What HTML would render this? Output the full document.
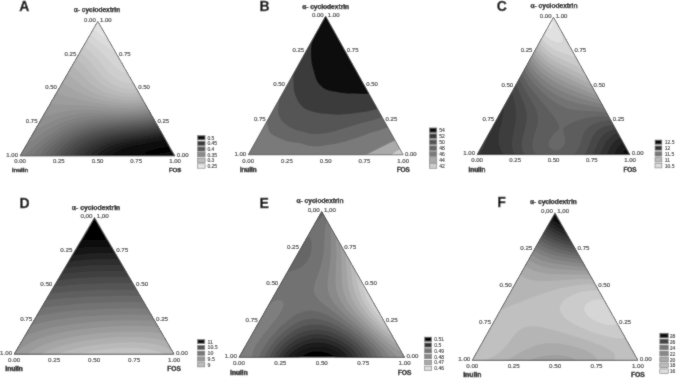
<!DOCTYPE html>
<html><head><meta charset="utf-8"><style>
html,body{margin:0;padding:0;background:#fff;}
svg{display:block;will-change:transform;}
text{font-family:"Liberation Sans",sans-serif;}
.L{font-weight:bold;fill:#000;stroke:#000;stroke-width:0.3px;}
.T{font-weight:bold;fill:#000;stroke:#000;stroke-width:0.25px;}
.N{font-weight:bold;fill:#000;stroke:#000;stroke-width:0.3px;}
.k text{fill:#1a1a1a;stroke:#1a1a1a;stroke-width:0.12px;}
.g{fill:#222;stroke:#222;stroke-width:0.1px;}
</style></head><body>
<svg width="677" height="379" viewBox="0 0 677 379">
<defs><filter id="bl" x="0" y="0" width="677" height="379" filterUnits="userSpaceOnUse"><feConvolveMatrix order="3" kernelMatrix="1 2 1 2 16 2 1 2 1" divisor="28" edgeMode="duplicate"/></filter></defs>
<g filter="url(#bl)">
<rect width="677" height="379" fill="#fff"/>
<clipPath id="cA"><polygon points="20.0,156.0 175.0,156.0 97.8,21.4"/></clipPath>
<g clip-path="url(#cA)">
<polygon points="20.0,156.0 175.0,156.0 97.8,21.4" fill="#030303"/>
<path d="M18.5 19.4l153.9 0l0.2 7l0.8 6.5l1.4 7l2.2 7.2l0 97.6l-6 1.5l-19.2 3.7l-4.7 1.5l-1.7 1l-0.2 0.5l0.8 0.7l2 0.4l7.5 -0l8.2 -1.1l13.3 -2.5l-0 8l-159 0l-0 -139z" fill="#0a0a0a"/>
<path d="M18.5 19.4l153.3 0l0.2 7.5l0.9 7l1.6 7.5l2.5 7.8l0 90.7l-9.5 2.3l-25.7 4.7l-6.2 1.5l-5.6 1.8l-4.3 2.2l-1.6 1.5l-0.4 1l0.2 1l1 1l2.1 0.9l2.4 0.6l-111.4 0l-0 -139zM176.5 154.4l0.5 -0.1l0 4.1l-25.9 0l11.5 -1.5z" fill="#111111"/>
<path d="M18.5 19.4l152.7 0l0.2 8l0.9 7.5l1.9 8l2.8 8.3l0 85.6l-12 3l-29.1 5.1l-11.9 3.1l-6 2.5l-2.5 1.4l-1.8 1.5l-1.1 1.5l-0.3 1l0.4 1.5l0.9 1l-95.6 0l-0 -139zM175 156.9l2 -0.4l0 1.9l-10.5 0z" fill="#181818"/>
<path d="M18.5 19.4l152.1 0l0.2 8.5l1 8l2.1 8.5l3.1 8.9l0 80.9l-11.5 3l-33 5.7l-7.5 1.7l-6.5 1.8l-7.4 3l-4.8 3l-1.5 1.5l-0.9 1.5l-0.3 1.5l0.4 1.5l-86 0l0 -139zM176 158.3l0.5 -0.1l0.5 -0.1l0 0.3l-1.5 -0z" fill="#1f1f1f"/>
<path d="M18.5 19.4l151.5 0l0.1 9l1.2 8.5l2.3 9l3.4 9.4l0 76.5l-5.5 1.7l-7 1.7l-35.5 6l-8 1.7l-7.5 2.2l-7.2 2.8l-5.9 3.5l-1.9 1.7l-1.4 1.8l-0.8 2l0.1 1.5l-78.4 0l0 -139z" fill="#262626"/>
<path d="M18.5 19.4l150.8 0l0.1 9.5l1.3 9l2.6 9.5l3.7 9.9l0 72.2l-6.5 2.2l-7.5 1.8l-37.5 6.1l-9 2l-7.5 2.2l-8 3.2l-6.5 3.9l-2.2 2l-1.5 2l-0.9 2l-0.1 1.5l-71.8 0l0 -139z" fill="#2d2d2d"/>
<path d="M18.5 19.4l150.2 0l0 10l1.4 9.5l2.6 9.5l4.3 11l0 67.9l-6.5 2.3l-8.5 2.1l-39.5 6.4l-9.5 2l-7.9 2.3l-8.6 3.5l-6.7 4l-2.3 2l-2.2 2.5l-1.1 2l-0.4 2l-65.8 -0l0 -139z" fill="#343434"/>
<path d="M18.5 19.4l149.5 -0l-0 10l1.4 10l2.8 10l4.8 12.1l-0 63.6l-7 2.7l-9 2.3l-10 1.8l-31.5 4.6l-9.5 2.1l-8.5 2.4l-9 3.7l-7 4.2l-3 2.5l-2.2 2.5l-1.5 2.5l-0.5 2l-60.3 0l-0 -139z" fill="#3b3b3b"/>
<path d="M18.5 19.4l148.8 0l-0 10.5l1.5 10.5l3 10.5l5.2 12.7l0 59.3l-7.5 3.1l-9.5 2.5l-10.5 1.8l-33 4.8l-10 2.1l-8.5 2.5l-9.5 3.9l-4.1 2.3l-3.7 2.5l-2.9 2.5l-2.3 2.5l-1.6 2.5l-0.9 2.5l-55 -0l0 -139z" fill="#424242"/>
<path d="M18.5 19.4l148.1 0l-0.3 5.5l0.2 5.5l1.6 10.5l3.2 11l5.7 13.9l0 54.9l-7.5 3.3l-10 2.8l-11.5 2l-34 4.7l-10.5 2.2l-9 2.6l-9.7 4.1l-4.4 2.5l-3.6 2.5l-3 2.5l-2.8 3l-2 3l-1 2.5l-50 0l0 -139z" fill="#494949"/>
<path d="M18.5 19.4l147.3 0l-0.3 6l0.2 5.5l0.6 5.5l1.1 5.5l3.5 11.5l6.1 14.7l0 50.3l-3.6 2l-4.4 1.8l-10.5 3l-12 2.1l-35.5 4.7l-10.5 2.2l-9.2 2.7l-9.8 4.2l-4.5 2.5l-4.1 2.8l-3.6 3l-2.8 3l-2.1 3l-1.3 3l-45.1 0l0 -139z" fill="#505050"/>
<path d="M18.5 19.4l146.6 0l-0.4 6l0.2 6l0.7 6l1.1 5.5l3.5 11.5l6.8 16.2l0 45.4l-3.5 2.2l-4.5 2.1l-5 1.7l-6 1.5l-12.5 2.2l-26 3l-11 1.6l-11 2.3l-9.5 2.9l-10.2 4.4l-4.4 2.5l-4.4 3.1l-3.5 2.9l-3.4 3.5l-2.5 3.5l-1.4 3l-40.2 0l0 -139z" fill="#575757"/>
<path d="M18.5 19.4l145.8 0l-0.4 6l0.1 6l0.7 6l1.1 6l3.8 12l7.4 17.8l0 40.2l-3.5 2.5l-4.5 2.3l-5.5 2l-6.3 1.7l-13.2 2.2l-27 3l-11.5 1.7l-11 2.2l-10 3.1l-5.5 2.2l-5.3 2.6l-4.7 2.8l-4.4 3.2l-4 3.5l-3.3 3.5l-2.5 3.5l-1.5 3l-35.3 0l0 -139z" fill="#5e5e5e"/>
<path d="M18.5 19.4l145 0l-0.5 6.5l0.1 6l0.7 6l1.1 6l3.8 12l8.3 20.3l0 34.3l-3.5 3l-4.5 2.6l-5.8 2.3l-6.7 1.8l-13.5 2.3l-29 3l-11.5 1.6l-11.5 2.4l-10 3.1l-5.6 2.3l-5.4 2.8l-5 3l-4.3 3.2l-4.1 3.5l-3.8 4l-2.6 3.5l-1.9 3.5l-30.3 0l-0 -139z" fill="#656565"/>
<path d="M18.5 19.4l144.2 0l-0.5 6.5l-0 6l0.6 6l1.2 6.5l3.7 12l9.3 23.2l0 27.5l-3.5 3.7l-4.5 3.1l-5.7 2.5l-7.3 2.1l-7 1.4l-8 1.1l-28.5 2.7l-11 1.3l-10.5 1.9l-9 2.5l-6.5 2.4l-6 2.8l-5.5 3.1l-5.5 3.7l-4.9 4l-4.5 4.5l-3.7 4.5l-2.3 4l-25.1 0l0 -139z" fill="#6c6c6c"/>
<path d="M18.5 19.4l143.3 0l-0.6 6.5l0 6.5l0.6 6l1.2 6.5l3.2 10.5l8.1 20.5l2.7 8.2l0 18.6l-0.6 1.2l-2.9 4l-4.5 3.6l-6 2.9l-7.5 2.4l-7 1.4l-8.5 1.1l-30.5 2.6l-11.5 1.3l-11 2l-9.5 2.7l-6 2.3l-6 2.9l-5.6 3.3l-5.8 4l-5.4 4.5l-4.5 4.5l-3.9 4.5l-3 4.5l-19.3 -0l0 -139z" fill="#737373"/>
<path d="M18.5 19.4l142.5 0l-0.7 6.5l-0.1 6.5l0.5 6l1.2 6.5l3.2 11l8.8 23l2.4 9l0.4 4l-0.1 4l-0.7 3.5l-1.2 3l-1.6 2.5l-1.6 1.9l-4.5 3.4l-6 2.9l-7.5 2.2l-7.5 1.4l-8.5 1.1l-31 2.1l-11.5 1.2l-11.5 2.1l-10.5 3.1l-6 2.4l-6 3l-5.5 3.3l-5.5 3.9l-5.5 4.5l-5.3 5l-4.7 5l-3.9 5l-12.6 -0l-0 -139z" fill="#7a7a7a"/>
<path d="M18.5 19.4l141.6 0l-0.8 6.5l-0.2 6l0.5 6.5l1 6l3.1 11l8.6 23l2.2 9l0.3 4l-0.1 3.5l-0.8 3.5l-1.2 3l-3.2 4.1l-4.5 3.4l-6 2.8l-7.5 2.1l-7.5 1.3l-8.5 1l-32 1.7l-12 1.1l-12 2.1l-10.5 3.1l-9.5 4.2l-9.4 5.6l-10.6 8l-18.5 16.2l-0.4 0.3l-2.6 0l0 -139z" fill="#818181"/>
<path d="M18.5 19.4l140.6 0l-0.8 6.5l-0.3 6l0.4 6l0.9 6.5l3 11l8.2 22.5l2 8.5l0.4 4l-0.2 3.5l-0.7 3.1l-1.2 2.9l-1.3 2l-2 2.3l-4.5 3.3l-6 2.7l-8 2.1l-7.5 1.2l-9.5 0.9l-31 1.1l-11.5 0.8l-11 1.5l-10 2.5l-8 3l-8 3.9l-9 5.5l-17.5 12.2l-4.5 2.3l-3.5 0.8l0 -128.6z" fill="#888888"/>
<path d="M18.5 19.4l139.6 0l-0.8 5.5l-0.4 5.5l0.1 5l0.5 5.5l1.1 6l1.5 6l7.8 22l2.2 8l0.6 4.5l0 4l-0.5 3.5l-1.4 3.5l-2.8 3.8l-4 3.2l-5.1 2.5l-6.5 2l-7.9 1.4l-9.5 1l-11 0.4l-31.5 0.4l-9.5 0.7l-8 1.1l-9 2.2l-9 3.2l-6.5 2.9l-14 7.5l-5 2.2l-4 1l-1.5 -0l-1.5 -0.4l-1 -0.7l-1.1 -1.4l-1.1 -4l-0.2 -4.5l0.6 -17l-0.6 -5.5l-1.1 -4.5l0 -76.5z" fill="#8f8f8f"/>
<path d="M18.5 19.4l138.6 0l-0.9 5.5l-0.5 5.5l0 5.5l0.4 5l1 6l1.5 6l7.4 21.5l2 7.5l0.6 4.5l-0.1 4l-0.6 3.5l-1.2 3l-1.7 2.5l-1.9 2l-2.6 2l-2.5 1.4l-6.7 2.6l-8.3 1.7l-8 0.9l-10 0.4l-36 -0.7l-14 0.4l-7.5 0.8l-7 1.3l-21.5 5.6l-3.5 0.3l-3 -0.9l-2 -1.8l-1.2 -2.5l-3.1 -12.5l-2 -5.5l-2.5 -4.5l-3.7 -4.5l-0 -66.5z" fill="#969696"/>
<path d="M18.5 19.4l137.6 0l-1.1 6l-0.5 5.5l-0.1 5l0.4 5.5l0.9 6l1.5 6l6.6 20l2 7.5l0.5 4l-0 4l-0.7 3.5l-1.1 2.8l-1.8 2.7l-2.2 2.2l-3 2.1l-3.5 1.7l-4.2 1.5l-4.8 1.1l-11.5 1.4l-8 0.2l-9.5 -0.2l-39.5 -2.8l-24 -0.6l-5.5 -0.8l-4 -1.4l-4 -3l-6.9 -7.9l-4 -4l-4.4 -3.5l-5.7 -3.7l-0 -60.8z" fill="#9d9d9d"/>
<path d="M18.5 19.4l136.4 -0l-1.1 5.5l-0.6 5.5l-0.2 5.5l0.2 5.5l0.8 5.5l1.4 6l6.2 19.5l1.8 7.5l0.5 4l-0.1 3.5l-0.5 3l-1.1 3l-2.7 3.7l-4 3.1l-5.5 2.5l-6.5 1.7l-7.5 0.9l-9 0.3l-10 -0.3l-11.5 -1.1l-11.5 -1.7l-11 -2l-9.5 -2.2l-8.5 -2.4l-9 -3.5l-18.3 -9l-19.7 -7.6l-0 -56.4z" fill="#a4a4a4"/>
<path d="M18.5 19.4l135.3 0l-1.3 6l-0.8 5.5l-0.3 5.5l0.2 5l0.7 5.5l1.2 6l5.8 19l1.6 7l0.3 3.5l-0 3.5l-0.6 3l-1.1 2.9l-2.5 3.4l-3.4 2.7l-4.6 2.2l-5.5 1.6l-6.5 1l-7.5 0.3l-8.5 -0.3l-9 -0.9l-7.5 -1.3l-7.5 -1.6l-7 -2l-6 -2.1l-9.2 -4.4l-15.3 -9.5l-7 -2.9l-6.9 -1.6l-17.6 -2.3l-10 -1.9l0 -52.8z" fill="#ababab"/>
<path d="M18.5 19.4l134 0l-1.4 6l-0.9 5.5l-0.4 5.5l0.1 5.5l0.6 5.5l1 5.5l5.3 18.5l1.3 6.5l0.3 3.5l-0.1 3l-0.6 3l-1.1 2.5l-2.1 3l-3 2.5l-4 2l-4.8 1.5l-5.7 0.9l-6.5 0.4l-7 -0.3l-7 -0.8l-7 -1.3l-7 -1.8l-5.9 -2.1l-5.6 -2.5l-4.4 -2.5l-4.3 -3l-13.9 -11.5l-3.9 -2.3l-4.3 -1.7l-4.2 -0.9l-5 -0.5l-21.5 0.7l-11.5 -0.7l-0 -49.6z" fill="#b2b2b2"/>
<path d="M18.5 19.4l132.7 0l-1.6 6l-1 5.5l-0.6 5.5l-0.1 5.5l0.5 5.5l0.9 5.5l4.6 17.5l1.1 6l0.1 6l-0.5 2.5l-0.9 2.5l-1.7 2.6l-2.6 2.4l-3.4 1.9l-4 1.4l-4.5 0.9l-5.5 0.4l-6 -0.2l-6 -0.7l-6.2 -1.2l-6.3 -1.9l-5.3 -2.1l-5.2 -2.8l-4.1 -2.7l-3.6 -3l-10.3 -10.6l-4 -3.6l-4.5 -3l-5 -2.1l-5 -0.9l-6 -0.1l-6 0.6l-18 2.9l-6.5 0.5l-6 -0l-0 -46.7z" fill="#b9b9b9"/>
<path d="M18.5 19.4l131.3 0l-1.8 6l-1.3 6l-0.7 5.5l-0.2 5.5l0.2 5l0.8 5.5l3.7 16l1 6l-0 5.5l-1.4 4.5l-2.1 3l-3 2.3l-3.8 1.7l-4.7 1.1l-5.5 0.3l-6 -0.3l-6 -1.1l-5.5 -1.6l-4 -1.6l-4 -2l-6.8 -4.8l-5 -5l-9.7 -11.3l-5.5 -5l-5.5 -3.2l-6 -1.8l-5 -0.4l-6 0.5l-6 1.3l-19 4.9l-6.5 1l-6.5 0.5l0 -44z" fill="#c0c0c0"/>
<path d="M18.5 19.4l129.8 0l-2 6l-1.5 6l-1 5.5l-0.5 5.5l0 5l0.5 5l2.9 15.5l0.6 5l-0.1 5l-1.2 3.8l-1.9 2.7l-2.6 2l-3.5 1.5l-3.5 0.7l-4.5 0.3l-5 -0.5l-5 -1.2l-4.5 -1.6l-6 -3.3l-5.5 -4.4l-4.1 -4.5l-9.6 -12l-6.3 -6l-3.5 -2.5l-3.5 -1.9l-3.5 -1.3l-3.5 -0.8l-5.5 -0.3l-6.5 0.9l-6 1.8l-20 6.9l-7 1.7l-7 1l-0 -41.5z" fill="#c7c7c7"/>
<path d="M18.5 19.4l128.2 0l-2.4 6.5l-1.9 6l-1.3 5.5l-0.7 5.5l-0.2 9.5l1.9 17.5l-0.2 4l-0.9 3l-1.5 2.4l-1.8 1.6l-2.2 1.1l-3 0.8l-3.5 0.1l-3.5 -0.4l-3.5 -1l-3.5 -1.5l-4.5 -2.8l-4.4 -3.8l-13.3 -16l-7.2 -7l-4.1 -3l-4.5 -2.7l-4.5 -1.9l-4 -1l-6 -0.1l-6 1.3l-5.5 2.1l-14.5 6.6l-7 2.9l-7.5 2.3l-7.5 1.6l0 -39.1z" fill="#cecece"/>
<path d="M18.5 19.4l41.9 0l3.1 0.8l3 0.3l2.5 -0.3l2.6 -0.8l73.3 0l-5.1 12.5l-3 10.5l-1.2 7.5l-0.7 13.5l-0.7 4.5l-1.2 2.5l-1.5 1.5l-2 0.9l-2 0.2l-2.5 -0.3l-2.5 -0.9l-5 -3.1l-4 -3.7l-13 -13.6l-5.7 -5l-5.8 -4.5l-5 -3.3l-5 -2.9l-4 -1.7l-3.5 -1l-4 0l-4 1.2l-5 2.6l-14.9 9.1l-7.6 4.1l-9 3.7l-9 2.5l-0 -36.8z" fill="#d5d5d5"/>
<path d="M18.5 19.4l32.4 0l2.8 2.5l1.4 2l0.8 2l-0.2 2.5l-1.4 3l-2.9 3.5l-4.3 4l-6.1 4.5l-5.6 3.5l-5.9 3l-5.5 2.2l-6 1.8l0 -34.5zM82.5 19.6l0.1 -0.2l60.3 0l-14.4 29.9l-1.5 2.2l-2 1.9l-1.5 0.7l-2 0.3l-2 -0.2l-2.5 -0.9l-5.5 -3l-13.5 -9.7l-10.4 -8.2l-3.5 -3.5l-1.9 -3l-0.6 -3z" fill="#dcdcdc"/>
<path d="M18.5 19.4l27.1 0l1.6 2l1.1 2l0.7 3.5l-0.7 3l-1.9 3.5l-3 3.5l-3.9 3.5l-4.8 3.5l-5.7 3.4l-5.5 2.5l-5.5 2l-0 -32.4zM90 19.4l0.5 0l50.1 0l-7.6 12.1l-5 6.4l-2.5 2.2l-2 1.2l-2.5 0.9l-2.5 0.3l-4 -0.5l-5 -1.9l-6 -3.4l-5.5 -4l-4.2 -3.8l-2.6 -3.5l-1.3 -3.5l-0.2 -2.5z" fill="#e3e3e3"/>
<path d="M18.5 19.4l22.9 0l2.1 3.5l0.6 3.5l-0.6 3l-1.4 3l-2.2 3l-3.4 3.5l-4 3.2l-4.5 2.9l-5 2.6l-5 2l0 -30.2zM96.5 19.4l0.5 0l40.9 0l-5.9 7.4l-5 4.6l-4.5 2.5l-2.5 0.6l-2.5 0.2l-3.5 -0.4l-3.5 -1.1l-3.5 -1.6l-3.4 -2.2l-2.9 -2.5l-2.3 -2.5l-1.9 -3.5l-0.4 -1.5z" fill="#eaeaea"/>
<path d="M18.5 19.4l19.4 0l1.5 3l0.6 3.5l-0.3 2.5l-1.2 3l-2 3l-2.7 3l-3.4 3l-3.5 2.5l-4.4 2.5l-4.5 2.1l0 -28.1zM103 19.4l0.5 0l31 0l-4.5 4.2l-4 2.7l-4 1.6l-4 0.4l-4.5 -0.6l-4.5 -2l-4.3 -3.3l-2.2 -3z" fill="#f1f1f1"/>
<path d="M18.5 19.4l16.3 0l1.3 3l0.4 3l-0.3 2.5l-0.9 2.5l-1.5 2.5l-2.4 3l-2.5 2.5l-3.4 2.6l-7.5 4.3l0 -25.9zM110.5 19.4l0.5 0l18.4 0l-4.9 2.4l-2.5 0.6l-2.5 0.3l-2.5 -0.3l-2.5 -0.6l-2.5 -1.2l-1.8 -1.2z" fill="#f8f8f8"/>
<path d="M18.5 19.4l13.5 0l1 2.5l0.3 3l-0.2 2l-0.7 2.5l-1.3 2.5l-1.8 2.5l-4.8 4.6l-6.5 4.1l0 -23.7z" fill="#fdfdfd"/>
</g>
<polygon points="20.0,156.0 175.0,156.0 97.8,21.4" fill="none" stroke="#333" stroke-width="0.65"/>
<text x="19.3" y="10.9" class="L" style="font-size:14px">A</text>
<text x="97.0" y="11.8" class="T" text-anchor="middle" style="font-size:6.5px">α- cyclodextrin</text>
<g class="k" style="font-size:6.0px">
<text x="95.8" y="22.1" text-anchor="end">0.00</text>
<text x="100.0" y="22.1">1.00</text>
<text x="76.3" y="55.8" text-anchor="end">0.25</text>
<text x="56.9" y="89.4" text-anchor="end">0.50</text>
<text x="37.5" y="123.0" text-anchor="end">0.75</text>
<text x="18.0" y="156.7" text-anchor="end">1.00</text>
<text x="118.9" y="55.8">0.75</text>
<text x="138.2" y="89.4">0.50</text>
<text x="157.5" y="123.0">0.25</text>
<text x="176.8" y="156.7">0.00</text>
<text x="20.0" y="162.7" text-anchor="middle">0.00</text>
<text x="58.8" y="162.7" text-anchor="middle">0.25</text>
<text x="97.5" y="162.7" text-anchor="middle">0.50</text>
<text x="136.2" y="162.7" text-anchor="middle">0.75</text>
<text x="175.0" y="162.7" text-anchor="middle">1.00</text>
</g>
<text x="20.0" y="172.2" class="N" text-anchor="middle" style="font-size:6.2px">Inulin</text>
<text x="175.0" y="172.2" class="N" text-anchor="middle" style="font-size:6.2px">FOS</text>
<rect x="197.5" y="135.5" width="7.6" height="4.4" fill="#111" stroke="#777" stroke-width="0.6"/>
<text x="207.4" y="139.7" class="g" style="font-size:5.0px">0.5</text>
<rect x="197.5" y="141.2" width="7.6" height="4.4" fill="#383838" stroke="#777" stroke-width="0.6"/>
<text x="207.4" y="145.4" class="g" style="font-size:5.0px">0.45</text>
<rect x="197.5" y="146.8" width="7.6" height="4.4" fill="#5a5a5a" stroke="#777" stroke-width="0.6"/>
<text x="207.4" y="151.0" class="g" style="font-size:5.0px">0.4</text>
<rect x="197.5" y="152.4" width="7.6" height="4.4" fill="#8a8a8a" stroke="#777" stroke-width="0.6"/>
<text x="207.4" y="156.7" class="g" style="font-size:5.0px">0.35</text>
<rect x="197.5" y="158.1" width="7.6" height="4.4" fill="#bdbdbd" stroke="#777" stroke-width="0.6"/>
<text x="207.4" y="162.3" class="g" style="font-size:5.0px">0.3</text>
<rect x="197.5" y="163.8" width="7.6" height="4.4" fill="#e6e6e6" stroke="#777" stroke-width="0.6"/>
<text x="207.4" y="168.0" class="g" style="font-size:5.0px">0.25</text>
<clipPath id="cB"><polygon points="248.2,154.8 403.2,154.8 325.6,16.1"/></clipPath>
<g clip-path="url(#cB)">
<polygon points="248.2,154.8 403.2,154.8 325.6,16.1" fill="#cccccc"/>
<path d="M246.7 14.1l158.5 0l0 131.9l-8 4.7l-9.3 6.4l-141.7 0l0 -143z" fill="#aaaaaa"/>
<path d="M246.7 14.1l158.5 0l-0 120.2l-10.5 6.2l-26.5 13.3l-5 1.6l-9.9 1.7l-107.1 0l-0 -143z" fill="#7a7a7a"/>
<path d="M246.7 14.1l158.5 0l0 107.2l-26.5 9.1l-9 2.7l-11.5 4.4l-14 4.3l-8.5 2l-16.5 2.5l-4.5 0.2l-4 -0.4l-4 -0.9l-7 -2.3l-7.5 -0.7l-4.5 -0.8l-5.5 -1.9l-7 -3.2l-2.5 -1.4l-2.5 -2.2l-1.4 -2.1l-2.6 -9.3l-4.7 -9.2l-8.3 -18.9l-7 -12.9l0 -66.2z" fill="#666666"/>
<path d="M246.7 14.1l158.5 0l-0 94.9l-31.5 11l-12.1 3.1l-28.9 8.6l-6 1.4l-9 1l-6 -0.1l-15.5 -3.9l-3.6 -1.5l-3.7 -2l-3.7 -2.5l-3.1 -3l-2.2 -3.5l-1.5 -4l-0.5 -3l1.1 -8.5l-0.3 -3.4l-4.2 -17.6l-4.2 -21.5l-2.6 -9l-3.5 -7.3l-4.5 -6.2l-6 -5.9l-7.5 -5.5l0 -11.6z" fill="#555555"/>
<path d="M275.7 14.1l129.5 0l-0 82.3l-28 12.7l-10 2.4l-15 2l-13.5 1.3l-16.5 -1.3l-5 -0.8l-7.5 -2l-3 -1.1l-2.5 -1.4l-3.1 -2.6l-2.9 -4l-2.8 -6l-1.6 -5.5l-0.5 -11.5l0.5 -33.5l-0.4 -5.5l-0.8 -4l-2.2 -5l-3.2 -4.8l-4.6 -5.2l-7.1 -6.5z" fill="#3a3a3a"/>
<path d="M302.2 14.1l103 0l0 68l-23 9.3l-6 1.7l-5.5 0.8l-7 0.2l-8.5 -0.6l-7.5 -0l-5 -0.4l-13.5 -2.4l-3.3 -1.1l-2.7 -1.5l-4 -3.5l-2.5 -4l-1.3 -3.5l-2.6 -9l-1.2 -5.5l-0.7 -7l0.3 -9l0.8 -4.5l2.4 -5.5l0.1 -1.5l-0.4 -2l-1.4 -3.5l-2 -3.5l-4 -5.9l-4.8 -6.1z" fill="#0a0a0a"/>
</g>
<polygon points="248.2,154.8 403.2,154.8 325.6,16.1" fill="none" stroke="#333" stroke-width="0.65"/>
<text x="259.6" y="10.6" class="L" style="font-size:14px">B</text>
<text x="325.6" y="8.9" class="T" text-anchor="middle" style="font-size:6.6px">α- cyclodextrin</text>
<g class="k" style="font-size:6.0px">
<text x="323.6" y="16.8" text-anchor="end">0.00</text>
<text x="327.8" y="16.8">1.00</text>
<text x="304.2" y="51.5" text-anchor="end">0.25</text>
<text x="284.9" y="86.2" text-anchor="end">0.50</text>
<text x="265.6" y="120.8" text-anchor="end">0.75</text>
<text x="246.2" y="155.5" text-anchor="end">1.00</text>
<text x="346.8" y="51.5">0.75</text>
<text x="366.2" y="86.2">0.50</text>
<text x="385.6" y="120.8">0.25</text>
<text x="405.0" y="155.5">0.00</text>
<text x="248.2" y="162.7" text-anchor="middle">0.00</text>
<text x="286.9" y="162.7" text-anchor="middle">0.25</text>
<text x="325.7" y="162.7" text-anchor="middle">0.50</text>
<text x="364.4" y="162.7" text-anchor="middle">0.75</text>
<text x="403.2" y="162.7" text-anchor="middle">1.00</text>
</g>
<text x="248.2" y="171.8" class="N" text-anchor="middle" style="font-size:6.4px">Inulin</text>
<text x="403.2" y="171.8" class="N" text-anchor="middle" style="font-size:6.4px">FOS</text>
<rect x="429.3" y="127.9" width="7.5" height="4.7" fill="#0a0a0a" stroke="#777" stroke-width="0.6"/>
<text x="439.2" y="132.4" class="g" style="font-size:5.0px">54</text>
<rect x="429.3" y="133.8" width="7.5" height="4.7" fill="#3a3a3a" stroke="#777" stroke-width="0.6"/>
<text x="439.2" y="138.3" class="g" style="font-size:5.0px">52</text>
<rect x="429.3" y="139.8" width="7.5" height="4.7" fill="#555" stroke="#777" stroke-width="0.6"/>
<text x="439.2" y="144.3" class="g" style="font-size:5.0px">50</text>
<rect x="429.3" y="145.8" width="7.5" height="4.7" fill="#666" stroke="#777" stroke-width="0.6"/>
<text x="439.2" y="150.2" class="g" style="font-size:5.0px">48</text>
<rect x="429.3" y="151.7" width="7.5" height="4.7" fill="#7a7a7a" stroke="#777" stroke-width="0.6"/>
<text x="439.2" y="156.2" class="g" style="font-size:5.0px">46</text>
<rect x="429.3" y="157.7" width="7.5" height="4.7" fill="#aaa" stroke="#777" stroke-width="0.6"/>
<text x="439.2" y="162.2" class="g" style="font-size:5.0px">44</text>
<rect x="429.3" y="163.6" width="7.5" height="4.7" fill="#ccc" stroke="#777" stroke-width="0.6"/>
<text x="439.2" y="168.1" class="g" style="font-size:5.0px">42</text>
<clipPath id="cC"><polygon points="477.0,154.7 630.0,154.7 553.5,17.2"/></clipPath>
<g clip-path="url(#cC)">
<polygon points="477.0,154.7 630.0,154.7 553.5,17.2" fill="#050505"/>
<path d="M509.5 15.2l75.2 0l4.8 3.8l5.5 3.6l5.5 2.8l6 2.4l6 1.7l6 1.2l6.5 0.6l7 0l0 125.4l-157 -0l0 -74.5l3.5 -0.5l3 -0.9l3 -1.4l2.5 -1.7l2.5 -2.3l2.5 -2.9l4.2 -6.8l4.1 -9.5l3.6 -11.5l2.8 -12.5l2.4 -17z" fill="#101010"/>
<path d="M510 15.2l73.6 0l4.9 4l5.5 3.7l6 3.1l6 2.4l6 1.7l6.5 1.2l6.5 0.5l7 0l0 113.3l-3.2 1.6l-3 2.5l-2.3 3l-2.5 4.5l-146 0l0 -71.5l3.5 -0.1l3.5 -0.6l3 -1.1l2.5 -1.5l2.5 -2.1l2.5 -2.7l4.3 -6.9l4.3 -10.5l3.8 -13.5l3.1 -15.5z" fill="#1b1b1b"/>
<path d="M511 15.2l71.5 -0l5.5 4.6l5.5 3.7l5.5 2.9l6 2.5l6.5 1.8l6.5 1.2l7 0.5l7 -0.1l0 107.2l-3 0.5l-3 0.9l-2.5 1.3l-2.6 2l-3.7 4.5l-4.4 8l-137.8 -0l0 -68.2l4 0.6l3.5 0l3 -0.6l2.5 -1l2.5 -1.7l2.5 -2.5l2 -2.7l2.2 -3.9l2.2 -5l2.1 -6l3.9 -14.5l3.2 -17z" fill="#262626"/>
<path d="M512 15.2l69.3 0l5.7 4.9l5.5 3.8l6 3.2l6 2.4l6.5 1.9l6.5 1.1l7 0.5l7.5 -0.1l0 102.4l-4.5 0.2l-4.5 0.9l-4 1.7l-3 2.1l-2.5 2.5l-2 2.8l-5.9 11.2l-130.6 0l0 -64.2l8.5 3.2l3 0.5l2.5 -0.2l2.5 -1l2 -1.5l2 -2.4l2 -3.6l2 -4.8l2 -6.2l4.2 -17.8l3.5 -20.5l1.6 -12l0.9 -11z" fill="#313131"/>
<path d="M513 15.2l67.1 0l5.4 4.8l5.5 3.9l6 3.4l6.5 2.8l6.5 1.8l7 1.2l7 0.5l8 -0.2l0 98.4l-6 -0.2l-5.5 0.6l-5 1.6l-4.1 2.4l-2.9 2.6l-2.6 3.4l-5.4 11l-2 3.5l-92.9 -0l-3.3 -4l-2.5 -5l-1.3 -5l-0.3 -5l0.7 -5l3.1 -12.3l1.3 -7.2l1.1 -22.5l0.8 -10l5.7 -45l1.7 -20.5zM475.1 97.7l5.8 6l3.9 6l1.5 3.5l1 3.5l1.2 7.5l-0.1 7.5l-1.3 6.5l-2.4 6.5l-5.6 12l-4.1 0z" fill="#3c3c3c"/>
<path d="M513.5 15.2l65.4 0l5.6 5.1l6 4.4l6 3.4l6.5 2.7l6.5 1.9l7 1.1l7.5 0.4l8 -0.3l0 94.9l-8 -0.8l-7 0.4l-6 1.6l-5 2.5l-3.1 2.7l-2.7 3.5l-1.9 3.5l-4.4 10l-2.9 4.5l-74.6 0l-1.8 -2.5l-1.4 -2.5l-0.9 -3l-0.5 -3l0.3 -6.5l3.5 -17l0.5 -4.5l0.1 -4l-1 -8l-4.4 -19.5l-0.7 -6l-0.3 -6.5l0.4 -14l2.5 -30.5zM475 105.2l1.7 4l1.2 4l0.8 5l0.2 5l-0.2 5.5l-0.8 6.5l-2.9 13.9z" fill="#474747"/>
<path d="M514.5 15.2l63.2 0l5.3 5.1l6 4.5l6.5 3.8l6.5 2.8l7 2l7 1.1l7.5 0.4l8.5 -0.4l0 91.6l-9.5 -1.5l-8.5 -0.1l-7.5 1.4l-3.5 1.2l-3.1 1.6l-3.7 3l-2.8 3.5l-2.1 4l-4.5 11.5l-1.8 3l-2.6 3l-55.7 -0l-2.2 -2.5l-1.6 -3l-0.9 -3l-0.3 -3.5l0.8 -6.5l2.9 -11.5l1 -5l0.3 -5l-0.4 -4.5l-0.8 -4l-1.3 -4l-6.1 -14.5l-2.3 -6.5l-1.8 -7.5l-1 -7.5l-0.3 -7l0 -8.5z" fill="#525252"/>
<path d="M515.5 15.2l60.9 0l5.6 5.5l6 4.7l6.5 3.8l6.5 2.9l7 2l7.5 1.2l8 0.3l8.5 -0.5l0 88.4l-11.5 -2.3l-5.5 -0.5l-5.5 -0.1l-5 0.4l-4.5 0.8l-4 1.2l-3.9 1.7l-4.3 3l-3 3.5l-2.2 4.5l-3 10l-1.7 4l-3.1 4l-4 3l-31.3 -0l-3.4 -2.5l-1.7 -2l-1.3 -2.5l-0.7 -2.5l-0.1 -3l0.8 -5.5l4.5 -14.5l0.5 -4l-0.2 -4l-1.2 -5l-2.1 -5l-10.4 -17.5l-3.2 -6.2l-2.5 -6.3l-1.7 -6l-1.4 -8.5l-0.6 -10z" fill="#5d5d5d"/>
<path d="M516.5 15.2l58.6 0l5.9 6l6 4.8l6.5 3.9l7 3.1l7 2l7.5 1.1l8 0.2l9 -0.7l0 85.6l-7.5 -2.1l-7 -1.4l-7 -0.9l-6.5 -0.4l-6.5 0.1l-6.6 0.7l-6.4 1.2l-6.1 1.8l-5.3 2l-4.2 2l-3.3 2l-2.1 2l-0.3 2l1.6 7l0.3 4l-0.8 3.5l-1.8 2.8l-2.5 1.8l-3.5 0.8l-3.5 -0.4l-2.7 -1.5l-1.1 -1.5l-0.6 -2l0.1 -2l0.6 -2l2.7 -4.6l6.9 -7.4l0.4 -1l-0 -1.5l-2.4 -5l-5.2 -7.5l-17.7 -21.2l-5.5 -7.2l-4.1 -6.6l-3.2 -7l-2.7 -9.2l-1.5 -10.8l-0.5 -11.5z" fill="#686868"/>
<path d="M518 15.2l55.7 0l5.8 6.1l6.5 5.3l6.5 4.1l7 3.1l7.5 2.1l7.5 1l8.5 0.1l9 -0.8l0 82.8l-12 -3.7l-12 -2.5l-11 -1.3l-20.5 -1.3l-5 -0.8l-4 -1l-5.5 -2.1l-6 -3.3l-7 -4.9l-7 -6l-7.5 -7.5l-5.5 -6.9l-4.1 -7l-3.2 -8l-2 -8.5l-1.2 -9.9l-1 -29.1z" fill="#737373"/>
<path d="M519 15.2l53.3 0l5.7 6.2l6.5 5.6l7 4.5l7 3.1l7.5 2.2l8 1l8.5 0l9.5 -0.9l0 80l-10.5 -3.7l-11 -3.2l-10 -2.3l-22 -4.2l-10.5 -3l-7 -3l-7 -3.9l-7 -4.7l-6.5 -5.3l-6 -6l-4.6 -5.9l-3.7 -6.5l-2.8 -7l-1.9 -7.6l-1.4 -9.4l-1.5 -26z" fill="#7e7e7e"/>
<path d="M520 15.2l50.9 0l6.1 7l6.5 5.7l7 4.5l7 3.2l8 2.2l8 1l9 -0.2l9.5 -1.1l0 77.3l-10.5 -4.1l-10 -3.5l-32.5 -9.3l-11.5 -4l-7.5 -3.4l-6.5 -3.6l-6.5 -4.3l-6 -4.8l-5.5 -5.5l-4.4 -5.6l-3.4 -6l-2.6 -6.5l-1.9 -7l-1.4 -8.5l-1.2 -12l-0.8 -11.5z" fill="#898989"/>
<path d="M521.5 15.2l47.9 -0l6.1 7.3l6.5 6l7 4.7l7.5 3.5l7.5 2.1l8.5 1l9 -0.2l10.5 -1.5l0 74.7l-22 -9.1l-33 -11.7l-11.5 -4.6l-7 -3.4l-6.5 -3.7l-5.5 -3.7l-5 -4.1l-5 -5l-4 -5.2l-3.2 -5.6l-2.5 -6l-2 -7l-1.6 -8.5l-2.2 -20z" fill="#949494"/>
<path d="M522.5 15.2l45.3 0l6.2 7.8l7 6.6l7 4.9l7.5 3.5l8 2.1l8.5 0.8l9.5 -0.5l10.5 -1.6l0 72.1l-26 -11.9l-33 -13.5l-9.5 -4.2l-11.5 -6.3l-4.9 -3.3l-4.1 -3.3l-4.5 -4.3l-4 -5l-3 -4.9l-2.8 -6l-2.1 -6.5l-1.5 -7l-1.6 -10.1z" fill="#9f9f9f"/>
<path d="M524 15.2l42.1 0l6 8l6.9 7l7 5.2l4 2.2l4 1.7l8 2.1l8.5 0.7l10 -0.6l11.5 -2l0 69.5l-35 -17.6l-37 -16.9l-9 -5.2l-7 -5.3l-4.5 -4.3l-3.5 -4.4l-3 -4.8l-2.5 -5.2l-2.1 -6.1l-1.8 -7l-2.1 -11.9l-0.8 -5.1z" fill="#aaaaaa"/>
<path d="M525.5 15.2l38.9 0l3.6 5.5l4 5l4 4.3l4 3.6l4 2.9l4.5 2.6l4.5 1.9l4.5 1.3l7 1.1l8 -0l9 -1l10.5 -2.2l0 67l-42 -23.4l-32.5 -15.7l-7 -4.2l-5.5 -4.2l-4 -3.9l-3.5 -4.2l-3 -4.7l-2.3 -4.7l-2.1 -5.5l-1.7 -6l-2.4 -11.4l-0.7 -4.1z" fill="#b5b5b5"/>
<path d="M527 15.2l35.4 0l3.4 5.5l3.7 5.2l4 4.7l4 4l4 3.2l4 2.6l4.5 2.1l4.5 1.4l7.5 1.2l8.5 -0.1l10 -1.4l11.5 -2.6l0 64.4l-44 -27.3l-9.5 -5.1l-21.5 -10.4l-6 -3.6l-5 -3.8l-3.5 -3.3l-3.1 -3.7l-2.9 -4.2l-2.3 -4.3l-1.9 -4.5l-1.9 -5.5z" fill="#c0c0c0"/>
<path d="M529 15.2l31.3 0l3.4 6l3.5 5.5l3.8 5.1l4 4.4l3.5 3.3l4 2.9l4 2.1l4.5 1.6l4 0.8l4 0.4l9 -0.4l11 -1.8l13 -3.4l0 61.8l-17.3 -11.3l-23.2 -16.9l-7 -4.7l-8.5 -4.8l-19.5 -9l-5.5 -3.3l-4.3 -3.3l-3.2 -3l-3 -3.5l-4.5 -7.2l-2 -4.4l-2 -5.5l-2.5 -8.6l-0.7 -2.8z" fill="#cbcbcb"/>
<path d="M531 15.2l27 0l3.1 6.5l3.6 6.5l3.8 6.1l4 5.6l3.5 4l3 2.8l3 2l3.5 1.3l3.5 0.7l4 0.2l10 -1l13.5 -2.9l15.5 -4.4l0 59.1l-12.3 -8.5l-10.3 -8l-9.3 -8l-14.1 -13.2l-5 -4l-6 -3l-12 -3.9l-6 -2.3l-5.5 -3.1l-4.5 -3.3l-5 -5.3l-4 -6l-3.7 -7.9z" fill="#d6d6d6"/>
<path d="M533.5 15.2l21.6 0l7.3 19.5l0.6 4l-0.3 1.5l-0.6 1l-1.1 0.8l-1.5 0.4l-4 -0.4l-4.5 -2l-4.5 -3.2l-3.5 -3.7l-3.5 -5l-3 -5.7zM631.5 43.6l0.5 -0.2l0 56.6l-14.7 -11.3l-6.3 -5.5l-5.5 -5.5l-4.8 -5.5l-3.2 -4.5l-2 -4l-0.5 -3l0.4 -2l1.1 -1.5l1.8 -1.5l2.7 -1.5l6.4 -2.5z" fill="#e1e1e1"/>
<path d="M537 15.2l14.4 0l1.1 8.5l-0.3 2.5l-0.7 1.4l-1 0.7l-1.5 0l-2 -0.7l-2 -1.4l-4 -4.5zM631 44.7l1 -0.4l0 53.9l-12.8 -10.5l-5.2 -5l-4.1 -4.5l-3.5 -4.5l-2.4 -4l-1.4 -3.5l-0.4 -3l0.4 -2.5l1 -2l1.8 -2l2.7 -2l7.8 -4z" fill="#ececec"/>
<path d="M631 45.6l1 -0.4l0 51l-10.4 -9l-7.8 -8.5l-2.9 -4l-2 -3.5l-1.3 -3.5l-0.4 -3l0.2 -2.5l0.7 -2l1.7 -2.5l2.1 -2l2.7 -2l4.4 -2.5z" fill="#f7f7f7"/>
<path d="M631 46.7l1 -0.5l0 48.3l-8.8 -8.3l-6.8 -8l-2.2 -3.5l-1.8 -3.5l-0.9 -3l-0.4 -3l0.3 -2.5l0.7 -2l1.5 -2.5l1.8 -2l2.3 -2l3.8 -2.5z" fill="#fefefe"/>
</g>
<polygon points="477.0,154.7 630.0,154.7 553.5,17.2" fill="none" stroke="#333" stroke-width="0.65"/>
<text x="496.8" y="11.0" class="L" style="font-size:14px">C</text>
<text x="554.0" y="7.5" class="T" text-anchor="middle" style="font-size:6.6px">α- cyclodextrin</text>
<g class="k" style="font-size:6.0px">
<text x="551.5" y="17.9" text-anchor="end">0.00</text>
<text x="555.7" y="17.9">1.00</text>
<text x="532.4" y="52.3" text-anchor="end">0.25</text>
<text x="513.2" y="86.7" text-anchor="end">0.50</text>
<text x="494.1" y="121.0" text-anchor="end">0.75</text>
<text x="475.0" y="155.4" text-anchor="end">1.00</text>
<text x="574.4" y="52.3">0.75</text>
<text x="593.5" y="86.7">0.50</text>
<text x="612.7" y="121.0">0.25</text>
<text x="631.8" y="155.4">0.00</text>
<text x="477.0" y="162.3" text-anchor="middle">0.00</text>
<text x="515.2" y="162.3" text-anchor="middle">0.25</text>
<text x="553.5" y="162.3" text-anchor="middle">0.50</text>
<text x="591.8" y="162.3" text-anchor="middle">0.75</text>
<text x="630.0" y="162.3" text-anchor="middle">1.00</text>
</g>
<text x="477.0" y="171.5" class="N" text-anchor="middle" style="font-size:6.4px">Inulin</text>
<text x="630.0" y="171.5" class="N" text-anchor="middle" style="font-size:6.4px">FOS</text>
<rect x="655.0" y="140.0" width="6.9" height="4.3" fill="#111" stroke="#777" stroke-width="0.6"/>
<text x="664.8" y="144.1" class="g" style="font-size:5.0px">12.5</text>
<rect x="655.0" y="145.9" width="6.9" height="4.3" fill="#333" stroke="#777" stroke-width="0.6"/>
<text x="664.8" y="150.0" class="g" style="font-size:5.0px">12</text>
<rect x="655.0" y="151.8" width="6.9" height="4.3" fill="#777" stroke="#777" stroke-width="0.6"/>
<text x="664.8" y="155.9" class="g" style="font-size:5.0px">11.5</text>
<rect x="655.0" y="157.7" width="6.9" height="4.3" fill="#bbb" stroke="#777" stroke-width="0.6"/>
<text x="664.8" y="161.8" class="g" style="font-size:5.0px">11</text>
<rect x="655.0" y="163.6" width="6.9" height="4.3" fill="#ddd" stroke="#777" stroke-width="0.6"/>
<text x="664.8" y="167.7" class="g" style="font-size:5.0px">10.5</text>
<clipPath id="cD"><polygon points="14.1,354.2 174.1,354.2 94.5,217.3"/></clipPath>
<g clip-path="url(#cD)">
<polygon points="14.1,354.2 174.1,354.2 94.5,217.3" fill="#050505"/>
<path d="M92.1 239.8l13.5 0.1l17 1.5l29.5 3.9l24 3.9l0 107.1l-164 0l0 -94.9l34 -11.7l17 -5.2l15 -3.3l7 -0.9z" fill="#0f0f0f"/>
<path d="M96.6 246.8l16 0.1l19 1.3l24.5 2.6l20 2.9l0 102.6l-164 0l0 -90.7l30.5 -9.4l19.5 -5l9 -1.8l8.5 -1.3l8.5 -0.9z" fill="#191919"/>
<path d="M93.1 253.3l18 -0.3l21 0.8l24 2l20 2.6l0 97.9l-164 0l0 -86.4l26.5 -7.4l19.5 -4.7l17.5 -2.9z" fill="#232323"/>
<path d="M94.1 259.3l19.5 -0.3l22.5 0.6l22 1.5l18 2.2l0 93l-164 0l0 -82l25.5 -6.6l19.5 -4.1l18.5 -2.8z" fill="#2d2d2d"/>
<path d="M93.1 265.3l21 -0.5l24 0.5l21 1.3l17 1.9l0 87.8l-164 0l0 -77.4l24 -5.8l19.5 -3.8l18.5 -2.6z" fill="#373737"/>
<path d="M116.1 270.8l18.5 0.2l16.5 0.6l13.5 1l11.5 1.5l0 82.2l-164 0l0 -72.6l28 -6.2l12 -2.1l12 -1.7l12 -1.3l12.5 -0.9z" fill="#414141"/>
<path d="M95.6 277.3l24 -0.4l24.5 0.4l18 1l14 1.7l0 76.3l-164 0l0 -67.4l22.5 -4.9l20 -3.3l19.5 -2.2z" fill="#4b4b4b"/>
<path d="M104.6 283.3l24 -0.2l20 0.4l15 1l12.5 1.8l0 70l-164 0l0 -61.9l23.5 -4.9l21.5 -3.2l22 -2z" fill="#555555"/>
<path d="M99.6 289.8l26.5 -0.4l21.5 0.4l16 1.1l12.5 1.8l0 63.6l-164 0l0 -55.7l21 -4.5l20.5 -3.1l21.5 -2.1z" fill="#5f5f5f"/>
<path d="M125.1 295.8l16.5 0.1l13.5 0.6l11.5 1.2l9.5 1.7l0 56.9l-164 0l0 -49l12 -2.8l12 -2.4l12.5 -2l12.5 -1.5l13.5 -1.1l14.5 -0.9z" fill="#696969"/>
<path d="M114.1 302.3l21 -0.2l16.5 0.5l13.5 1.3l11 2.1l0 50.3l-164 0l0 -41.4l10 -2.7l11 -2.6l11 -2l12 -1.7l25.5 -2.3z" fill="#737373"/>
<path d="M107.1 308.8l24 -0.5l18.5 0.4l14.5 1.4l12 2.5l0 43.7l-164 0l0 -32.8l9 -3.1l9.5 -2.7l10.5 -2.4l11 -1.9l11.5 -1.6l13 -1.2z" fill="#7d7d7d"/>
<path d="M111.1 314.8l22 -0.5l17.5 0.6l14 1.5l11.5 2.6l0 37.3l-164 0l0 -23.1l7.5 -3.6l8 -3l9 -2.7l10 -2.3l10.5 -2l11.5 -1.6l13 -1.4z" fill="#878787"/>
<path d="M122.6 320.3l17 -0.1l14.5 0.8l12 1.7l10 2.7l0 30.9l-164 0l0 -12.4l5 -3.4l6 -3.3l6.5 -2.9l7.5 -2.7l8 -2.3l8.5 -2l19.5 -3.3l23.5 -2.4z" fill="#919191"/>
<path d="M115.1 326.3l20 -0.5l16.5 0.8l7 0.8l6.5 1.1l6 1.5l5 1.8l-0 24.5l-163.6 0l2.6 -3l3.5 -3.2l3.8 -2.8l4.2 -2.6l10 -4.9l11.6 -4l13.4 -3.3l16 -2.8l18 -2z" fill="#9b9b9b"/>
<path d="M116.6 331.8l18.5 -0.4l15.5 0.7l7 0.9l6 1.1l5.5 1.5l4.8 1.7l2.2 1l0 18l-151.6 0l6.6 -5l7.5 -4.2l9.1 -3.8l10.9 -3.4l12 -2.7l14.1 -2.4l15.4 -1.8z" fill="#a5a5a5"/>
<path d="M116.6 337.3l15 -0.5l13.5 0.5l11.5 1.4l9.5 2.2l5.5 2.1l4.5 2.4l0 10.9l-138.3 0l6.3 -3.6l7.4 -3.4l8.6 -3l9 -2.4l10.5 -2.3l11.5 -1.8l12.5 -1.5z" fill="#afafaf"/>
<path d="M130.1 342.3l9 0.2l8.5 0.7l7.5 1.1l6.5 1.6l6 2.3l5 2.9l3.5 3l0 2.2l-123 0l7.1 -3l7.9 -2.6l8.9 -2.4l9.6 -2l10.5 -1.6l11.5 -1.3l11 -0.8z" fill="#b9b9b9"/>
<path d="M118.1 348.3l16.5 -0.2l7 0.4l6.7 0.8l5.8 1.2l5 1.6l4.5 2l3.5 2.2l-95.1 0l10.1 -2.8l11.5 -2.4l12 -1.7z" fill="#c3c3c3"/>
<path d="M117.6 354.3l9 -0.3l8 0.2l7.5 0.8l6.5 1.3l-48.9 0l8.9 -1.2z" fill="#cdcdcd"/>
</g>
<polygon points="14.1,354.2 174.1,354.2 94.5,217.3" fill="none" stroke="#333" stroke-width="0.65"/>
<text x="19.6" y="207.7" class="L" style="font-size:14px">D</text>
<text x="96.0" y="209.6" class="T" text-anchor="middle" style="font-size:6.8px">α- cyclodextrin</text>
<g class="k" style="font-size:6.2px">
<text x="92.5" y="218.0" text-anchor="end">0,00</text>
<text x="96.7" y="218.0">1,00</text>
<text x="72.4" y="252.2" text-anchor="end">0.25</text>
<text x="52.3" y="286.4" text-anchor="end">0.50</text>
<text x="32.2" y="320.7" text-anchor="end">0.75</text>
<text x="12.1" y="354.9" text-anchor="end">1.00</text>
<text x="116.2" y="252.2">0.75</text>
<text x="136.1" y="286.4">0.50</text>
<text x="156.0" y="320.7">0.25</text>
<text x="175.9" y="354.9">0.00</text>
<text x="14.1" y="361.8" text-anchor="middle">0.00</text>
<text x="54.1" y="361.8" text-anchor="middle">0.25</text>
<text x="94.1" y="361.8" text-anchor="middle">0.50</text>
<text x="134.1" y="361.8" text-anchor="middle">0.75</text>
<text x="174.1" y="361.8" text-anchor="middle">1.00</text>
</g>
<text x="14.1" y="370.9" class="N" text-anchor="middle" style="font-size:6.6px">Inulin</text>
<text x="174.1" y="370.9" class="N" text-anchor="middle" style="font-size:6.6px">FOS</text>
<rect x="197.4" y="339.5" width="7.4" height="4.2" fill="#111" stroke="#777" stroke-width="0.6"/>
<text x="207.6" y="343.5" class="g" style="font-size:5.2px">11</text>
<rect x="197.4" y="345.3" width="7.4" height="4.2" fill="#555" stroke="#777" stroke-width="0.6"/>
<text x="207.6" y="349.3" class="g" style="font-size:5.2px">10.5</text>
<rect x="197.4" y="351.1" width="7.4" height="4.2" fill="#777" stroke="#777" stroke-width="0.6"/>
<text x="207.6" y="355.1" class="g" style="font-size:5.2px">10</text>
<rect x="197.4" y="356.9" width="7.4" height="4.2" fill="#999" stroke="#777" stroke-width="0.6"/>
<text x="207.6" y="360.9" class="g" style="font-size:5.2px">9.5</text>
<rect x="197.4" y="362.7" width="7.4" height="4.2" fill="#bbb" stroke="#777" stroke-width="0.6"/>
<text x="207.6" y="366.7" class="g" style="font-size:5.2px">9</text>
<clipPath id="cE"><polygon points="238.9,357.4 404.6,357.4 321.7,211.5"/></clipPath>
<g clip-path="url(#cE)">
<polygon points="238.9,357.4 404.6,357.4 321.7,211.5" fill="#060606"/>
<path d="M237.4 209.5l169.5 0l0 150l-70.1 0l-3.4 -3.4l-4.5 -2.6l-5.5 -1.6l-5.5 -0.6l-6 0.6l-5.3 1.6l-4.7 2.5l-4.2 3.5l-60.8 0l0 -56.3l3.7 -14.2l0.9 -6l0.3 -5.5l-0.2 -5l-1 -5l-1.4 -4.5l-2.3 -4.7l0 -48.8z" fill="#121212"/>
<path d="M237.4 209.5l169.5 0l0 150l-63.4 0l-1.5 -2.5l-2.4 -2.5l-2.7 -2.1l-3.5 -2.1l-3.5 -1.5l-4 -1.2l-4 -0.7l-4 -0.2l-4 0.3l-3.5 0.5l-4 1.2l-3.5 1.4l-3.5 2l-3 2.1l-3 2.8l-2 2.5l-54.5 0l-0 -51.4l3.2 -10.1l2.1 -8l1.2 -7l0.4 -6l-0.4 -5.5l-1.2 -5.5l-2.3 -5.5l-3 -5l0 -46z" fill="#1e1e1e"/>
<path d="M237.4 209.5l169.5 0l0 150l-57.8 0l-1.4 -3l-2.8 -3.4l-3.5 -3l-4.2 -2.6l-4.3 -2.1l-5 -1.6l-5 -1l-5 -0.4l-5 0.4l-4.5 0.8l-4.5 1.5l-4.1 1.9l-4.1 2.5l-3.8 3l-3.3 3.5l-2.5 3.5l-49.2 0l0 -46.5l4.3 -12.5l2.6 -9l1.5 -7.5l0.6 -7l-0.5 -6.5l-1.6 -6l-2.6 -5.5l-4.3 -6l0 -43.5z" fill="#2a2a2a"/>
<path d="M237.4 209.5l169.5 0l0 150l-52.6 0l-1.5 -3.5l-3 -4l-4.4 -3.9l-5 -3.4l-5.5 -2.7l-6 -2.2l-6 -1.2l-5.5 -0.4l-5.5 0.4l-5 1.1l-5.5 2l-5 2.6l-4.7 3.2l-4.3 3.8l-3.5 4.2l-2.5 4l-44.5 -0l0 -41.6l5.8 -15.9l3 -9.5l2 -8.5l0.7 -7.5l-0.7 -7l-2.1 -6.5l-3.5 -6l-5.2 -6.2l0 -41.3z" fill="#363636"/>
<path d="M237.4 209.5l169.5 0l0 150l-47.8 0l-1.8 -4.5l-3.4 -4.5l-4.9 -4.5l-6.1 -4.2l-6.5 -3.4l-6.5 -2.4l-6.5 -1.5l-6.5 -0.5l-6 0.4l-5.5 1.3l-6 2.3l-5.5 3l-5.4 4l-4.7 4.5l-4 5l-2.8 5l-40.1 -0l0 -36.5l7.7 -20l3.6 -10.5l2.2 -9l0.8 -7.5l-0.2 -4l-0.6 -3.5l-1.1 -3.5l-1.4 -3l-1.8 -3l-2.7 -3.5l-6.5 -6.7l0 -39.3z" fill="#424242"/>
<path d="M237.4 209.5l169.5 0l0 150l-43 0l-0.8 -2.5l-1.2 -2.5l-3.7 -5l-5.8 -5.5l-7 -5l-7.5 -4.1l-7.5 -3.1l-7 -1.7l-7 -0.7l-6.5 0.5l-6 1.5l-6.5 2.7l-6 3.6l-6.1 4.8l-5.5 5.5l-4.4 6l-2.7 5.5l-35.8 0l0 -30.9l11.2 -28.1l3.1 -8.5l2.6 -9.5l0.8 -7.5l-0.3 -4l-0.7 -3.5l-1.4 -3.5l-1.6 -3l-2.5 -3.5l-3.2 -3.5l-8 -7l0 -37.5z" fill="#4e4e4e"/>
<path d="M237.4 209.5l169.5 0l0 150l-38.3 0l-0.7 -2.5l-1.1 -2.5l-2 -3l-2.4 -3l-6.5 -6.2l-8.5 -6.3l-8.5 -4.9l-8.5 -3.8l-8 -2.2l-7.5 -0.7l-6.5 0.6l-6.5 1.8l-6.5 3l-7 4.6l-7 6l-6 6.6l-4.4 6.5l-2.6 6l-31.5 -0l0 -24.6l5.5 -13.9l13.2 -31.5l2.6 -8.5l0.8 -7l-0.4 -4l-0.9 -3.5l-1.7 -3.5l-2 -3l-3.1 -3.5l-3.8 -3.5l-10.2 -7.7l-0 -35.8z" fill="#5a5a5a"/>
<path d="M237.4 209.5l71.8 0l3.2 1.5l3 0.5l3 -0.5l3.7 -1.5l84.8 0l0 150l-33.6 0l-0.6 -2.5l-1.4 -3l-1.9 -3l-2.9 -3.5l-7.6 -7.2l-10 -7.6l-10 -6.2l-9.5 -4.5l-8.5 -2.6l-7.5 -0.9l-7 0.7l-6.5 2.1l-7 3.7l-7.5 5.5l-8 7.4l-6.4 7.6l-4.6 7.3l-1.5 3.2l-1.1 3.5l-26.9 0l0 -17.2l9.5 -23.4l15.8 -33.4l2.4 -7l0.9 -6l-0.4 -3.5l-0.9 -3l-1.8 -3l-2.5 -3l-3.9 -3.5l-4.6 -3.5l-14.5 -9.4l0 -34.1z" fill="#666666"/>
<path d="M237.4 209.5l65.1 0l6.9 12.4l1.5 1.8l1.5 0.7l2 -0.7l3 -2.4l11.2 -11.8l78.3 0l0 150l-28.5 0l-0.8 -3l-1.6 -3l-2.4 -3.5l-3.1 -3.5l-9.6 -9l-12 -9.3l-12 -7.9l-10.5 -5.6l-4.5 -1.8l-4.5 -1.5l-4 -0.7l-3.5 -0.2l-3.5 0.2l-3 0.7l-6.5 2.7l-7 4.7l-8.5 7.3l-9.4 9.9l-6.9 9l-4.2 7.5l-1.3 3.5l-0.8 3.5l-21.9 0l0 -8.3l9 -22.1l4 -8.9l4 -7.9l4.5 -8l5 -8l5 -7.3l4.5 -5.8l4 -4.5l3.5 -3.2l2.5 -1.7l3 -1.4l9 -2.4l4 -1.5l3 -1.7l3 -2.6l2.8 -3.7l2.2 -4.4l1.4 -5.1l0.5 -5l-0.2 -4l-0.8 -3l-0.4 -1l-1 -1l-1.5 -0l-1.5 0.8l-2.5 2l-11.5 11.6l-4.5 4l-4.5 2.8l-4 1.1l-4 -0.1l-5.5 -1.3l-6.5 -2.5l-8 -3.7l-18.5 -9.6l0 -32.6z" fill="#727272"/>
<path d="M237.4 209.5l60.8 0l0.8 3.5l0.5 3.5l-0 3l-0.5 3l-2 6l-3.7 6l-5.3 6l-5.6 4.7l-5.5 3l-5 1.6l-5.5 0.4l-6.5 -0.8l-10 -3.1l-13 -5.7l0 -31.1zM332.9 209.5l74 0l0 150l-23.1 0l-1.1 -3.5l-2.4 -4l-3.8 -4.5l-5.4 -5.5l-7.2 -6.4l-9 -7.4l-32.1 -24.7l-4.8 -4.5l-2.9 -4l-1.2 -3.5l0.1 -4l1.2 -5l5.4 -15.5l2.3 -9l1 -8l0.7 -17l0.9 -7l1.1 -4l1.5 -4l2.3 -4.5zM277.9 299.9l3 0.3l1.4 0.8l0.8 1l0.5 1.5l0 1.5l-1 3.5l-2.2 4l-3.3 5l-16.3 20.5l-5.2 7.5l-1.7 3.5l-1.2 3.5l-0.5 3.5l0 3.5l-14.8 -0l4.4 -6l2.9 -5l8.7 -21.7l3.5 -6.9l3.5 -5.6l4.5 -5.9l4.5 -4.4l4.5 -2.9z" fill="#7e7e7e"/>
<path d="M237.4 209.5l57.2 0l0.3 4l-0.2 3.5l-1.6 6l-2.8 5.5l-4.4 5.8l-5.5 5l-5.5 3.4l-5.5 2.1l-6 1l-6 -0.3l-4.5 -0.8l-5 -1.4l-11 -4.1l-0 -29.7zM336.4 209.5l70.5 0l0 150l-16.7 0l-0.9 -2.5l-1.5 -2.5l-5.5 -6.5l-9.4 -9l-23.6 -20.5l-8.2 -7.5l-6.8 -7.5l-2.5 -3.5l-2 -3.5l-1.9 -6l-0.5 -6.5l0.4 -5.5l2.1 -14.6l0.8 -7.9l0.3 -28l0.6 -5l1.2 -5l2 -5.5l1.4 -3z" fill="#8a8a8a"/>
<path d="M237.4 209.5l54.2 0l-0 2l-0.9 6l-2.3 5.7l-3.8 5.8l-4.7 5l-5.4 4l-5.6 2.7l-6 1.5l-6 0.4l-4.5 -0.4l-4.5 -0.9l-11 -3.4l-0 -28.4zM338.9 209.8l0.1 -0.3l67.9 -0l0 150l-7.9 -0l-2.7 -3.5l-4.9 -5l-28.6 -25.5l-11 -10.5l-4.6 -5l-3.6 -4.5l-2.7 -4l-2.1 -4l-2.3 -6.5l-1 -7.5l-0 -6l1 -22.5l-1.1 -25.5l0.2 -5.5l0.7 -5l1 -4.5z" fill="#969696"/>
<path d="M237.4 209.5l0.5 0l51 0l-1.1 6l-2.2 5.5l-3.6 5.5l-4.6 4.9l-5 3.7l-5.5 2.8l-6 1.6l-6 0.5l-8.5 -0.9l-9.5 -2.5l0 -27.1zM341.9 209.5l65 0l0 145l-6 -2.6l-7.5 -5l-11.5 -9.1l-12.9 -11.3l-8.2 -8l-6.7 -7.5l-4.8 -6.5l-3.5 -6.5l-2.5 -7l-1.3 -7.5l-0.3 -6.5l-0.4 -22l-2.1 -25.5l-0.1 -6l0.5 -5.5l1.2 -6l0.8 -2.5z" fill="#a2a2a2"/>
<path d="M237.4 209.5l48.5 0l0.4 0l-1.3 5.5l-2.5 5.5l-3.6 5l-4.5 4.4l-5 3.5l-5.5 2.5l-5.5 1.4l-6 0.5l-7.5 -0.6l-8 -1.9l0 -25.8zM343.9 209.5l63 0l0 139.5l-6.5 -2.7l-7.5 -4.5l-9 -6.8l-9.3 -8l-8.1 -8l-6.2 -7l-5 -7l-3.5 -6.5l-2.5 -7l-1.6 -8l-2.1 -28l-3 -25l-0.4 -6l0.1 -5l0.5 -5z" fill="#aeaeae"/>
<path d="M237.4 209.5l0.5 0l46.1 0l-1.7 5.5l-2.7 5l-3.7 4.7l-4.5 4.1l-5 3.2l-5 2.2l-5.5 1.3l-6 0.4l-6 -0.4l-7 -1.4l-0 -24.6zM346.4 209.5l60.5 0l0 135.1l-6.5 -2.7l-7 -4.1l-7.5 -5.5l-7.9 -6.8l-7 -7l-5.9 -7l-4.5 -6.5l-3.4 -6.5l-2.6 -7l-1.9 -8l-3.2 -28l-4 -25.5l-0.5 -6.5l-0 -5.5l0.6 -6.5l0.4 -2z" fill="#bababa"/>
<path d="M237.4 209.5l0.5 0l43.9 0l-1.9 5l-2.9 5l-3.6 4.3l-4.3 3.7l-4.9 3l-5.3 2.1l-5.5 1.3l-5.5 0.3l-5.5 -0.3l-5.5 -1l-0 -23.4zM348.4 209.5l58.5 0l0 131.2l-6.5 -2.9l-6.3 -3.8l-6.8 -5l-6.9 -6l-5.8 -6l-5.4 -6.5l-4 -6l-3.3 -6.5l-2.6 -7l-2 -8l-4.1 -26.5l-4.9 -26.5l-0.8 -6.5l-0.2 -5.5l0.4 -6.5l0.3 -2z" fill="#c6c6c6"/>
<path d="M237.4 209.5l0.5 0l41.7 0l-2.1 5l-2.9 4.5l-3.7 4.1l-4.2 3.4l-4.8 2.8l-5 1.9l-5.5 1.1l-5.5 0.4l-9 -0.9l-0 -22.3zM349.9 209.6l57 -0.1l0 127.4l-6 -2.8l-6 -3.7l-6 -4.5l-6 -5.3l-5.2 -5.6l-4.4 -5.5l-3.9 -6l-3.1 -6l-2.6 -7l-2.1 -7.5l-4.9 -26l-5.7 -26l-1.4 -11.5l-0.1 -5z" fill="#d2d2d2"/>
<path d="M237.4 209.5l0.5 0l39.7 0l-2.1 4.5l-3.1 4.4l-3.5 3.7l-4.4 3.4l-4.6 2.5l-5 1.9l-5 1l-5.5 0.4l-7.5 -0.6l0 -21.2zM351.9 209.5l55 0l0 123.8l-5.5 -2.8l-5.5 -3.5l-5.5 -4.3l-5.1 -4.7l-4.5 -5l-4.2 -5.5l-3.5 -5.5l-2.7 -5.5l-2.6 -6.5l-2.2 -7.5l-5.7 -25.5l-6.4 -26l-1.2 -6.5l-0.7 -5.5l-0.1 -6l0.2 -3.5z" fill="#dedede"/>
<path d="M237.4 209.5l0.5 0l37.8 0l-2.3 4.3l-3 4l-3.7 3.7l-4.1 3l-4.2 2.2l-5 1.8l-5 1.1l-5.5 0.3l-6 -0.3l0 -20.1zM353.4 209.5l53.5 0l0 120.1l-5 -2.7l-5 -3.4l-4.9 -4l-4.6 -4.4l-4 -4.6l-3.6 -5l-3.1 -5l-2.7 -5.5l-2.4 -6l-2.3 -7.5l-5.9 -23l-7.6 -27.5l-2.1 -11.5l-0.4 -5z" fill="#eaeaea"/>
<path d="M237.4 209.5l0.5 0l35.9 0l-2.4 4.1l-3.1 3.9l-3.8 3.5l-4.1 2.8l-4.5 2.2l-4.5 1.5l-5 0.9l-5 0.3l-4.5 -0.2l0 -19zM355.4 209.5l51.5 0l0 116.4l-4.5 -2.6l-4.5 -3.3l-4.5 -3.9l-4 -4.1l-3.7 -4.5l-3.1 -4.5l-2.9 -5l-2.5 -5l-4.5 -12.5l-14.7 -49.5l-1.5 -6.5l-1 -6l-0.5 -7l0 -2z" fill="#f6f6f6"/>
<path d="M237.4 209.5l0.5 0l34 0l-2.5 4l-3 3.5l-3.5 3.1l-4 2.6l-4.5 2.2l-4.5 1.5l-5 0.9l-5 0.3l-3 -0.1l0 -18zM356.9 209.5l50 0l0 112.7l-4.1 -2.7l-3.9 -3l-3.8 -3.5l-3.7 -4l-3.1 -4l-3 -4.5l-5 -9.5l-4.6 -12l-15.6 -48l-1.7 -6.5l-1.1 -6l-0.7 -6.5l-0 -2.5z" fill="#fdfdfd"/>
</g>
<polygon points="238.9,357.4 404.6,357.4 321.7,211.5" fill="none" stroke="#333" stroke-width="0.65"/>
<text x="259.6" y="207.7" class="L" style="font-size:14px">E</text>
<text x="320.0" y="203.3" class="T" text-anchor="middle" style="font-size:6.6px">α- cyclodextrin</text>
<g class="k" style="font-size:6.2px">
<text x="319.7" y="212.2" text-anchor="end">0,00</text>
<text x="323.9" y="212.2">1,00</text>
<text x="299.0" y="248.7" text-anchor="end">0.25</text>
<text x="278.3" y="285.1" text-anchor="end">0.50</text>
<text x="257.6" y="321.6" text-anchor="end">0.75</text>
<text x="236.9" y="358.1" text-anchor="end">1.00</text>
<text x="344.2" y="248.7">0.75</text>
<text x="364.9" y="285.1">0.50</text>
<text x="385.7" y="321.6">0.25</text>
<text x="406.4" y="358.1">0.00</text>
<text x="238.9" y="365.4" text-anchor="middle">0.00</text>
<text x="280.3" y="365.4" text-anchor="middle">0.25</text>
<text x="321.8" y="365.4" text-anchor="middle">0.50</text>
<text x="363.2" y="365.4" text-anchor="middle">0.75</text>
<text x="404.6" y="365.4" text-anchor="middle">1.00</text>
</g>
<text x="238.9" y="374.6" class="N" text-anchor="middle" style="font-size:6.6px">Inulin</text>
<text x="404.6" y="374.6" class="N" text-anchor="middle" style="font-size:6.6px">FOS</text>
<rect x="424.5" y="337.1" width="7.2" height="4.3" fill="#000" stroke="#777" stroke-width="0.6"/>
<text x="434.3" y="341.2" class="g" style="font-size:5.0px">0.51</text>
<rect x="424.5" y="342.9" width="7.2" height="4.3" fill="#333" stroke="#777" stroke-width="0.6"/>
<text x="434.3" y="347.0" class="g" style="font-size:5.0px">0.5</text>
<rect x="424.5" y="348.7" width="7.2" height="4.3" fill="#777" stroke="#777" stroke-width="0.6"/>
<text x="434.3" y="352.8" class="g" style="font-size:5.0px">0.49</text>
<rect x="424.5" y="354.5" width="7.2" height="4.3" fill="#888" stroke="#777" stroke-width="0.6"/>
<text x="434.3" y="358.6" class="g" style="font-size:5.0px">0.48</text>
<rect x="424.5" y="360.3" width="7.2" height="4.3" fill="#aaa" stroke="#777" stroke-width="0.6"/>
<text x="434.3" y="364.4" class="g" style="font-size:5.0px">0.47</text>
<rect x="424.5" y="366.1" width="7.2" height="4.3" fill="#ddd" stroke="#777" stroke-width="0.6"/>
<text x="434.3" y="370.2" class="g" style="font-size:5.0px">0.46</text>
<clipPath id="cF"><polygon points="472.3,360.3 637.9,360.3 555.0,212.7"/></clipPath>
<g clip-path="url(#cF)">
<polygon points="472.3,360.3 637.9,360.3 555.0,212.7" fill="#050505"/>
<path d="M470.8 210.7l78.1 0l2.9 3.4l3 2.8l3.7 2.8l4.3 2.7l9.2 4.3l25.8 9.2l13.5 5.9l7.5 4.1l7.5 4.8l7 5.2l7 5.8l0 101l-170 0l0 -152z" fill="#101010"/>
<path d="M470.8 210.7l73.6 0l3 4l3.9 3.9l4 3.2l5 3.1l5 2.5l5.5 2.3l27 9l13.5 5.6l7.5 4l7.5 4.6l7 5.1l7 5.7l0 99l-170 0l0 -152z" fill="#1b1b1b"/>
<path d="M470.8 210.7l69.6 0l3.4 5l4 4.4l4.5 3.7l5.5 3.5l5.5 2.7l6 2.4l28.5 9l13.5 5.4l7.5 3.8l7.5 4.5l7 5l7 5.6l0 97l-170 -0l0 -152z" fill="#262626"/>
<path d="M470.8 210.7l66 0l3.5 5.8l4.4 5.2l5.1 4.4l6 3.8l5.8 2.8l6.4 2.5l29.3 8.6l7.5 2.7l6.5 2.7l7.5 3.7l7.5 4.4l7 4.9l7 5.6l0 94.9l-170 0l0 -152z" fill="#313131"/>
<path d="M470.8 210.7l62.7 0l3.5 6.5l4.7 6l5.5 5l6.1 4l6 3l7 2.6l30.5 8.5l7.5 2.5l7 2.8l7.5 3.6l7.5 4.4l7 4.8l7 5.6l-0 92.7l-170 0l-0 -152z" fill="#3c3c3c"/>
<path d="M470.8 210.7l59.6 0l3.6 7.5l4.8 6.6l5.6 5.4l6.9 4.6l6.5 3.2l7.5 2.7l31 8.1l7.5 2.3l7 2.7l8 3.7l7.5 4.3l7 4.8l7 5.5l0 90.6l-170 0l0 -152z" fill="#474747"/>
<path d="M470.8 210.7l56.7 0l1.8 4.5l2 4.2l2.3 3.8l2.6 3.5l2.7 3l3.3 3l7.1 4.8l6.6 3.2l7.9 2.8l8 2.2l24 5.6l8 2.4l7 2.6l8 3.6l7.5 4.2l7 4.7l7 5.6l0 88.3l-170 -0l0 -152z" fill="#525252"/>
<path d="M470.8 210.7l54 0l1.7 5l2 4.5l2.3 4.3l2.5 3.7l3 3.5l3 3l3.9 3l3.9 2.5l6.7 3.2l8.5 3l8.5 2.1l25 5.5l8 2.2l7 2.5l8 3.6l7.5 4.2l7 4.7l7 5.6l0 85.9l-170 -0l0 -152z" fill="#5d5d5d"/>
<path d="M470.8 210.7l51.4 0l1.7 5.5l1.9 5l2.5 5l2.5 4l3 3.8l3.1 3.2l3.9 3.2l4 2.6l7 3.4l8.5 2.8l9 2.2l25.5 5l8 2.2l7.5 2.5l8 3.4l7.7 4.2l7.3 4.9l7 5.7l-0 83.4l-170 0l-0 -152z" fill="#686868"/>
<path d="M470.8 210.7l49 0l1.5 6l2 5.8l2.3 5.2l2.6 4.5l2.9 4l3.2 3.5l4 3.5l4 2.7l7.5 3.6l9 2.9l9 2l26.5 4.7l8.5 2.2l7.4 2.4l8.1 3.4l7.6 4.1l7.4 4.9l7 5.8l0 80.8l-170 0l0 -152z" fill="#737373"/>
<path d="M470.8 210.7l46.6 0l1.6 7l1.8 6.1l2.4 5.9l2.6 5.1l3 4.4l3.5 4l4 3.5l4 2.7l7.5 3.6l9 2.7l9.5 1.9l27 4.2l8.5 2l7.5 2.3l8 3.2l8 4.2l7.2 4.7l6.8 5.5l1 1l0 78l-170 0l0 -152z" fill="#7e7e7e"/>
<path d="M470.8 210.7l44.4 0l1.4 8l1.9 7l2.3 6.5l2.5 5.3l3 4.8l3.5 4.3l4 3.6l4 2.8l7.5 3.6l9.5 2.8l9.5 1.6l28 3.7l8.5 1.8l7.5 2.1l8.1 3.1l7.9 4l7 4.5l7 5.6l2 1.9l0 75l-170 -0l0 -152z" fill="#898989"/>
<path d="M470.8 210.7l42.2 0l1.3 8.7l1.7 7.8l2.1 7l2.4 6l2.8 5.1l3.5 4.8l3.6 3.6l4.4 3.2l4 2.2l4 1.6l9.5 2.6l10 1.5l28.5 2.9l8.5 1.5l8 2.1l8.1 2.9l7.9 3.9l7.2 4.6l6.8 5.4l3 2.9l0 71.7l-170 0l0 -152z" fill="#949494"/>
<path d="M470.8 210.7l40.1 0l1.3 11l1.7 9.5l2.2 8l2.7 7.1l3.3 5.9l3.7 4.7l4.5 3.8l5 3l7.5 2.8l8.5 1.7l9 1l28 1.7l9 1.3l7.5 1.6l8.5 2.8l8 3.6l7.5 4.6l6.9 5.4l4.6 4.5l-0 68l-170 -0l-0 -152z" fill="#9f9f9f"/>
<path d="M470.8 210.7l38.1 0l1 12.5l1.5 11l1.9 9.3l2.3 7.7l2.8 6l3.4 5.1l4 3.9l5 3.1l3.5 1.6l4 1.2l9 1.6l9.5 0.5l29 0.4l9 0.8l8 1.5l8.5 2.4l8.1 3.4l7.7 4.5l6.7 5.3l6.5 6.7l-0 63.5l-61.2 0l-1.4 -1.5l-2.1 -1.5l-5.8 -2.6l-7 -1.6l-8 -0.6l-7 0.5l-7 1.2l-7.5 2.1l-11.7 4l-51.3 0l0 -152z" fill="#aaaaaa"/>
<path d="M470.8 210.7l36.1 0l0.8 15.5l1.2 14l1.4 11l1.6 8l2.2 6.5l2.7 5l3.5 4l4 2.7l3.5 1.6l3.5 1l4.5 0.8l5 0.4l10 -0.2l21 -1.6l9.5 -0.4l9.5 0.2l8.7 1l9.3 2.1l8.5 3.3l7.5 4.2l7 5.4l4.5 4.5l4 5.1l-0 57.9l-42.9 0l0 -2l-0.4 -1.5l-2 -3l-3.9 -3l-5.8 -3l-8 -2.9l-9 -2.3l-9 -1.4l-8 -0.5l-5 0.2l-4.5 0.6l-4.5 1l-4.5 1.5l-7 3.2l-16.5 9.1l-9.4 4l-29.6 -0l-0 -152z" fill="#b5b5b5"/>
<path d="M470.8 210.7l34.2 0l0.3 40.5l-0.5 12l-0.9 9l-1.4 7l-2.3 5.5l-1.4 2.1l-1.5 1.5l-2 1.3l-2 0.8l-4 0.6l-5 -0.2l-6.5 -1.2l-7.5 -2.1l-0 -76.8zM587.3 284.2l8 0.2l7.5 1l7 1.7l6.5 2.6l6 3.3l5.5 4l4.8 4.7l3.9 5l3.8 6.9l0 49.1l-28 0l1.6 -2.5l0.8 -2l0.2 -2l-0.5 -2l-1.4 -2l-1.8 -1.5l-3.2 -2l-4 -2l-7.4 -3l-10.8 -3.9l-26.5 -8.2l-16.5 -4.1l-6 -1l-5 -0.3l-3.5 0.3l-3.5 0.7l-3 1.3l-2.5 1.7l-4 3.9l-7.8 10.1l-4 4.5l-4.4 4l-5.2 3.5l-6.1 3l-5.9 2l-6.9 1.5l-4.7 0l0 -34.4l15 -9.3l17 -9.4l8.5 -3.9l21.7 -8.5l15.7 -5.5l14.3 -4l13 -2.5z" fill="#c0c0c0"/>
<path d="M470.8 210.7l32.3 0l-0.6 20.5l-1.1 14l-2 11l-1.3 4.5l-1.7 4l-2 3.5l-2.2 3l-2.9 2.8l-3 2.1l-3.5 1.7l-4 1.2l-4 0.7l-4.5 0.2l0 -69.2zM588.3 290.7l5.5 -0.3l5.5 0.2l5.5 0.8l5 1.3l5 2l4.5 2.4l4 2.8l3.5 3.2l3.4 4.1l2.4 4l1.7 4.2l1 4.3l0.2 4.5l-0.7 4l-1.5 3.7l-2.2 2.8l-1.9 1.5l-2.4 1.2l-2.5 0.7l-3 0.3l-7.5 -0.5l-9.5 -2.1l-13 -4.1l-12.1 -5l-9.2 -5l-3.5 -2.5l-2.7 -2.5l-2.9 -4l-0.8 -2l-0.3 -2l0.2 -2l0.7 -2l2.3 -3.5l4.2 -3.5l6.1 -3.2l7 -2.4zM638.3 358.6l2 -0.3l0 4.4l-12.8 -0l5.8 -2.7z" fill="#cbcbcb"/>
<path d="M470.8 210.7l30.5 0l-1 16l-1.4 12l-2.2 10l-3 8l-1.9 3.4l-2.2 3.1l-2.3 2.6l-3 2.6l-3 1.9l-3.5 1.7l-3.5 1.2l-4 0.9l-0 -63.4zM595.3 299.7l6 -0.4l5.8 0.9l5.4 2l4.7 3l3.7 4l1.4 2.4l0.8 2.1l0.4 2.5l-0.2 2l-0.5 1.7l-1 1.6l-2.5 2.1l-3 1.1l-4 0.4l-4.5 -0.3l-5 -1.1l-5.5 -1.9l-5 -2.6l-3.5 -2.5l-2.5 -2.5l-1.5 -2.5l-0.6 -2.5l0.3 -2.5l1.5 -2.5l2.4 -2l3.1 -1.5z" fill="#d6d6d6"/>
<path d="M470.8 210.7l28.7 0l-1.2 13.5l-1.6 10.5l-2.2 9l-3 7.5l-4.1 6.5l-4.6 4.9l-3 2.3l-3 1.8l-6.5 2.6l0 -58.6z" fill="#e1e1e1"/>
<path d="M470.8 210.7l26.9 0l-1.3 12l-1.8 9.5l-2.3 8.1l-2.9 6.9l-3.6 5.9l-4.5 5l-5 3.8l-6 3.1l0 -54.3z" fill="#ececec"/>
<path d="M470.8 210.7l25.2 0l-1.4 10.5l-1.8 8.4l-2.3 7.6l-2.7 6.2l-3.5 5.8l-4 4.7l-4.5 3.9l-5.5 3.2l0 -50.3z" fill="#f7f7f7"/>
<path d="M470.8 210.7l23.5 0l-1.4 9l-1.7 7.5l-2.3 7l-2.6 6l-3.3 5.5l-3.6 4.5l-4.3 4l-4.8 3.2l0 -46.7z" fill="#fefefe"/>
</g>
<polygon points="472.3,360.3 637.9,360.3 555.0,212.7" fill="none" stroke="#333" stroke-width="0.65"/>
<text x="497.2" y="207.4" class="L" style="font-size:14px">F</text>
<text x="553.4" y="203.6" class="T" text-anchor="middle" style="font-size:6.6px">α- cyclodextrin</text>
<g class="k" style="font-size:6.2px">
<text x="553.0" y="213.4" text-anchor="end">0,00</text>
<text x="557.2" y="213.4">1,00</text>
<text x="532.3" y="250.3" text-anchor="end">0.25</text>
<text x="511.6" y="287.2" text-anchor="end">0.50</text>
<text x="491.0" y="324.1" text-anchor="end">0.75</text>
<text x="470.3" y="361.0" text-anchor="end">1.00</text>
<text x="577.5" y="250.3">0.75</text>
<text x="598.2" y="287.2">0.50</text>
<text x="619.0" y="324.1">0.25</text>
<text x="639.7" y="361.0">0.00</text>
<text x="472.3" y="368.3" text-anchor="middle">0.00</text>
<text x="513.7" y="368.3" text-anchor="middle">0.25</text>
<text x="555.1" y="368.3" text-anchor="middle">0.50</text>
<text x="596.5" y="368.3" text-anchor="middle">0.75</text>
<text x="637.9" y="368.3" text-anchor="middle">1.00</text>
</g>
<text x="472.3" y="377.3" class="N" text-anchor="middle" style="font-size:6.8px">Inulin</text>
<text x="637.9" y="377.3" class="N" text-anchor="middle" style="font-size:6.8px">FOS</text>
<rect x="659.8" y="333.2" width="8.5" height="4.7" fill="#111" stroke="#777" stroke-width="0.6"/>
<text x="669.8" y="337.7" class="g" style="font-size:5.0px">28</text>
<rect x="659.8" y="339.1" width="8.5" height="4.7" fill="#444" stroke="#777" stroke-width="0.6"/>
<text x="669.8" y="343.6" class="g" style="font-size:5.0px">26</text>
<rect x="659.8" y="345.1" width="8.5" height="4.7" fill="#777" stroke="#777" stroke-width="0.6"/>
<text x="669.8" y="349.6" class="g" style="font-size:5.0px">24</text>
<rect x="659.8" y="351.1" width="8.5" height="4.7" fill="#888" stroke="#777" stroke-width="0.6"/>
<text x="669.8" y="355.6" class="g" style="font-size:5.0px">22</text>
<rect x="659.8" y="357.0" width="8.5" height="4.7" fill="#aaa" stroke="#777" stroke-width="0.6"/>
<text x="669.8" y="361.5" class="g" style="font-size:5.0px">20</text>
<rect x="659.8" y="362.9" width="8.5" height="4.7" fill="#bbb" stroke="#777" stroke-width="0.6"/>
<text x="669.8" y="367.4" class="g" style="font-size:5.0px">18</text>
<rect x="659.8" y="368.9" width="8.5" height="4.7" fill="#ddd" stroke="#777" stroke-width="0.6"/>
<text x="669.8" y="373.4" class="g" style="font-size:5.0px">16</text>
</g>
</svg>
</body></html>
